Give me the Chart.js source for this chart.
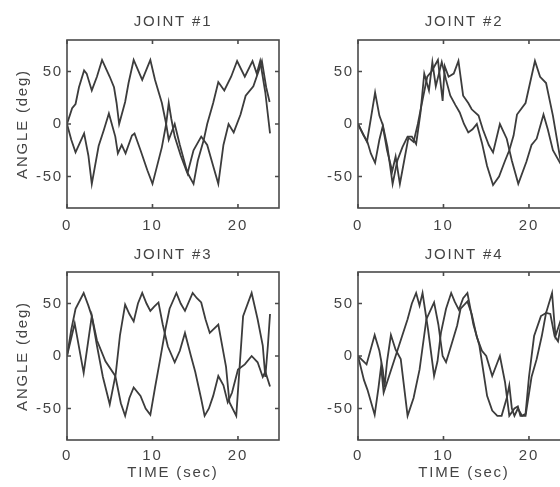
<!DOCTYPE html>
<html>
<head>
<meta charset="utf-8">
<script src="https://cdn.jsdelivr.net/npm/chart.js@4.4.0/dist/chart.umd.min.js"></script>
<style>
  html, body { margin: 0; padding: 0; background: #fff; overflow: hidden; width: 560px; height: 487px; }
  canvas { position: absolute; }
</style>
</head>
<body>
<canvas id="j1" width="290" height="240" style="left:0;top:0"></canvas>
<canvas id="j2" width="290" height="240" style="left:290px;top:0"></canvas>
<canvas id="j3" width="290" height="247" style="left:0;top:240px"></canvas>
<canvas id="j4" width="290" height="247" style="left:290px;top:240px"></canvas>
<script>
// tick labels
const xTicks = [0, 10, 20];
const yTicks = [-50, 0, 50];

// joint 1
const t1a = [0, 0.6, 1.0, 1.4, 2.0, 2.3, 2.9, 3.5, 4.1, 4.6, 5.0, 5.5, 5.8, 6.1, 6.8, 7.2, 7.8, 8.8, 9.75, 10.3, 11.1, 11.6, 11.9, 12.6, 13.2, 13.9, 14.1, 14.8, 15.7, 16.4, 17.1, 17.7, 18.3, 18.9, 19.5, 20.3, 20.9, 21.8, 22.4, 22.8, 23.3, 23.7];
const y1a = [0, 15, 19, 35, 51, 48, 32, 45, 61, 52, 45, 35, 20, 0, 21, 39, 61, 42, 61, 42, 20, 0, -15, 0, -20, -41, -47, -25, -12, -20, -40, -57, -20, 0, -8, 9, 27, 36, 50, 60, 35, 21];
const t1b = [0, 0.5, 1.0, 1.5, 2.0, 2.5, 2.9, 3.7, 4.3, 4.9, 5.65, 5.95, 6.4, 6.85, 7.6, 7.9, 8.6, 9.4, 10.0, 10.6, 11.1, 11.6, 11.9, 12.2, 12.6, 13.3, 14.0, 14.8, 15.3, 16.0, 16.4, 17.1, 17.7, 18.4, 19.2, 19.9, 20.8, 21.7, 22.2, 22.6, 23.2, 23.75];
const y1b = [0, -15, -27, -18, -9, -30, -57, -21, -6, 10, -12, -28, -20, -28, -11, -9, -25, -44, -57, -38, -22, 0, 20, 5, -12, -30, -45, -57, -35, -15, 0, 20, 40, 32, 45, 60, 45, 60, 48, 60, 30, -9];

// joint 2
const t2a = [0, 0.5, 1.05, 1.5, 2.0, 2.5, 2.9, 3.45, 4.05, 4.6, 5.2, 5.8, 6.3, 6.8, 7.3, 7.75, 8.3, 8.7, 9.1, 9.8, 10.3, 10.8, 11.4, 11.9, 12.4, 12.9, 13.4, 13.9, 14.5, 15.1, 15.8, 16.5, 17.2, 17.7, 18.2, 18.6, 19.6, 20.7, 21.3, 22.0, 22.8, 23.7];
const y2a = [0, -8, -17, 5, 30, 8, -1, -22, -57, -35, -22, -12, -12, -19, 10, 48, 32, 59, 36, 59, 42, 27, 18, 11, 0, -8, -5, 0, -18, -40, -58, -50, -35, -25, -11, 9, 20, 60, 45, 39, 8, -35];
const t2b = [0, 0.6, 1.1, 1.5, 2.0, 2.5, 2.9, 3.4, 4.0, 4.4, 4.9, 5.4, 5.9, 6.5, 7.0, 7.6, 8.1, 8.6, 9.35, 9.9, 10.15, 10.6, 11.2, 11.75, 12.3, 12.9, 13.3, 14.1, 14.6, 15.3, 15.8, 16.6, 17.4, 18.0, 18.75, 19.7, 20.3, 20.9, 21.7, 22.2, 22.8, 23.7];
const y2b = [0, -10, -17, -28, -37, -15, -2, -25, -45, -31, -57, -35, -13, -17, 0, 25, 45, 50, 61, 22, 55, 45, 48, 60, 27, 20, 14, 8, -5, -20, -27, 0, -14, -35, -57, -36, -20, -14, 9, -5, -25, -38];

// joint 3
const t3a = [0, 0.9, 1.95, 2.9, 3.5, 4.2, 5.0, 5.7, 6.2, 6.8, 7.3, 7.8, 8.3, 8.8, 9.3, 9.75, 10.2, 10.7, 11.2, 11.8, 12.6, 13.2, 13.8, 14.5, 15.0, 15.7, 16.1, 16.6, 17.1, 17.7, 18.3, 18.8, 19.3, 20.0, 20.8, 21.6, 22.3, 22.9, 23.2, 23.75];
const y3a = [0, 31, -16, 38, 10, -20, -46, -17, 20, 49, 40, 33, 50, 60, 50, 43, 47, 51, 30, 9, -6, 5, 22, 0, -15, -41, -57, -50, -38, -19, -28, -44, -35, -13, -8, 0, -6, -20, -15, -29];
const t3b = [0, 0.5, 1.0, 1.95, 2.5, 2.9, 3.5, 4.5, 5.65, 6.3, 6.8, 7.3, 7.8, 8.6, 9.2, 9.75, 10.3, 10.9, 11.5, 12.0, 12.8, 13.3, 13.8, 14.7, 15.2, 15.7, 16.2, 16.7, 17.7, 18.6, 19.0, 19.8, 20.6, 21.6, 22.3, 22.9, 23.2, 23.5, 23.75];
const y3b = [0, 25, 45, 60, 48, 38, 15, -5, -19, -45, -57, -40, -30, -38, -50, -56, -30, -3, 25, 45, 60, 50, 43, 60, 55, 51, 35, 22, 30, -10, -44, -57, 38, 60, 35, 10, -20, 10, 40];

// joint 4
const t4a = [0, 1.0, 1.95, 2.5, 2.9, 3.1, 3.4, 3.85, 4.4, 5.0, 5.8, 6.5, 7.2, 8.0, 8.9, 9.4, 9.9, 10.3, 10.9, 11.6, 12.0, 12.8, 13.3, 13.9, 14.5, 15.0, 15.7, 16.6, 17.2, 17.7, 18.3, 18.7, 19.0, 19.6, 20.3, 20.9, 21.5, 22.0, 22.5, 23.0, 23.4, 23.75];
const y4a = [0, -8, 20, 5, -13, -30, -5, 20, 6, -3, -57, -40, -13, 35, 51, 30, 0, -6, 10, 29, 45, 52, 40, 18, 5, 0, -19, 0, -25, -57, -50, -48, -57, -57, -20, -3, 19, 41, 40, 19, 14, 30];
const t4b = [0, 0.7, 1.1, 1.95, 2.4, 2.7, 3.0, 3.6, 4.4, 5.0, 5.8, 6.3, 6.8, 7.2, 7.55, 8.2, 8.9, 9.3, 9.7, 10.3, 10.9, 11.3, 11.8, 12.3, 12.8, 13.5, 14.2, 15.1, 15.7, 16.3, 16.8, 17.4, 17.7, 18.0, 18.3, 18.7, 19.2, 19.6, 20.0, 20.6, 21.4, 22.0, 22.7, 23.1, 23.75];
const y4b = [0, -23, -32, -56, -30, -10, -35, -20, 0, 15, 35, 50, 60, 48, 60, 25, -19, -5, 22, 45, 60, 52, 44, 55, 60, 30, 10, -38, -52, -57, -57, -40, -28, -50, -57, -50, -57, -55, -20, 19, 38, 41, 60, 19, 35];

const FONT = { family: 'Liberation Sans, Arial, sans-serif', size: 15, weight: 'normal' };
const INK = '#444';

const pts = (t, v) => t.map((x, i) => ({ x: x, y: v[i] }));

// the scanned figure has wide, airy lettering
const spacing = {
    id: 'spacing',
    beforeLayout(chart) { chart.ctx.letterSpacing = '1.8px'; },
    beforeDraw(chart) { chart.ctx.letterSpacing = '1.8px'; }
};

// MATLAB-like box with inward ticks on all four sides
const frame = {
    id: 'frame',
    afterDatasetsDraw(chart) {
        const { ctx, chartArea: a, scales: { x, y } } = chart;
        ctx.save();
        ctx.strokeStyle = '#4a4a4a';
        ctx.lineWidth = 1.6;
        ctx.strokeRect(a.left, a.top, a.right - a.left, a.bottom - a.top);
        ctx.beginPath();
        x.ticks.forEach(tk => {
            const px = x.getPixelForValue(tk.value);
            ctx.moveTo(px, a.bottom); ctx.lineTo(px, a.bottom - 4);
            ctx.moveTo(px, a.top); ctx.lineTo(px, a.top + 4);
        });
        y.ticks.forEach(tk => {
            const py = y.getPixelForValue(tk.value);
            ctx.moveTo(a.left, py); ctx.lineTo(a.left + 4, py);
            ctx.moveTo(a.right, py); ctx.lineTo(a.right - 4, py);
        });
        ctx.stroke();
        ctx.restore();
    }
};

function joint(id, title, a, b, opt) {
    new Chart(document.getElementById(id), {
        type: 'line',
        data: {
            datasets: [a, b].map(d => ({
                data: d,
                borderColor: '#3c3c3c',
                borderWidth: 1.8,
                pointRadius: 0,
                tension: 0
            }))
        },
        options: {
            responsive: false,
            animation: false,
            devicePixelRatio: 1,
            layout: { padding: { left: 0, right: opt.right, top: 0, bottom: 0 } },
            plugins: {
                legend: { display: false },
                tooltip: { enabled: false },
                title: {
                    display: true, text: title, color: INK, font: FONT, fullSize: false,
                    padding: { top: opt.titleTop, bottom: opt.titleBottom }
                }
            },
            scales: {
                x: {
                    type: 'linear', min: 0, max: 24.8,
                    afterBuildTicks: s => { s.ticks = xTicks.map(v => ({ value: v })); },
                    afterFit: s => { s.height = opt.xHeight; },
                    grid: { display: false, drawTicks: false },
                    border: { display: false },
                    ticks: { color: INK, font: FONT, padding: opt.xPad, maxRotation: 0 },
                    title: { display: opt.xTitle, text: 'TIME (sec)', color: INK, font: FONT, padding: { top: 0, bottom: 5 } }
                },
                y: {
                    min: -80, max: 80,
                    afterBuildTicks: s => { s.ticks = yTicks.map(v => ({ value: v })); },
                    afterFit: s => { s.width = opt.yWidth; },
                    grid: { display: false, drawTicks: false },
                    border: { display: false },
                    ticks: { color: INK, font: FONT, padding: 4 },
                    title: { display: opt.yTitle, text: 'ANGLE (deg)', color: INK, font: FONT, padding: { top: 14, bottom: 0 } }
                }
            }
        },
        plugins: [spacing, frame]
    });
}

joint('j1', 'JOINT #1', pts(t1a, y1a), pts(t1b, y1b),
    { right: 11, yWidth: 67, xHeight: 32, xPad: 9, titleTop: 13, titleBottom: 9, xTitle: false, yTitle: true });
joint('j2', 'JOINT #2', pts(t2a, y2a), pts(t2b, y2b),
    { right: 10, yWidth: 68, xHeight: 32, xPad: 9, titleTop: 13, titleBottom: 9, xTitle: false, yTitle: false });
joint('j3', 'JOINT #3', pts(t3a, y3a), pts(t3b, y3b),
    { right: 11, yWidth: 67, xHeight: 47, xPad: 7, titleTop: 6, titleBottom: 8, xTitle: true, yTitle: true });
joint('j4', 'JOINT #4', pts(t4a, y4a), pts(t4b, y4b),
    { right: 10, yWidth: 68, xHeight: 47, xPad: 7, titleTop: 6, titleBottom: 8, xTitle: true, yTitle: false });
</script>
</body>
</html>
